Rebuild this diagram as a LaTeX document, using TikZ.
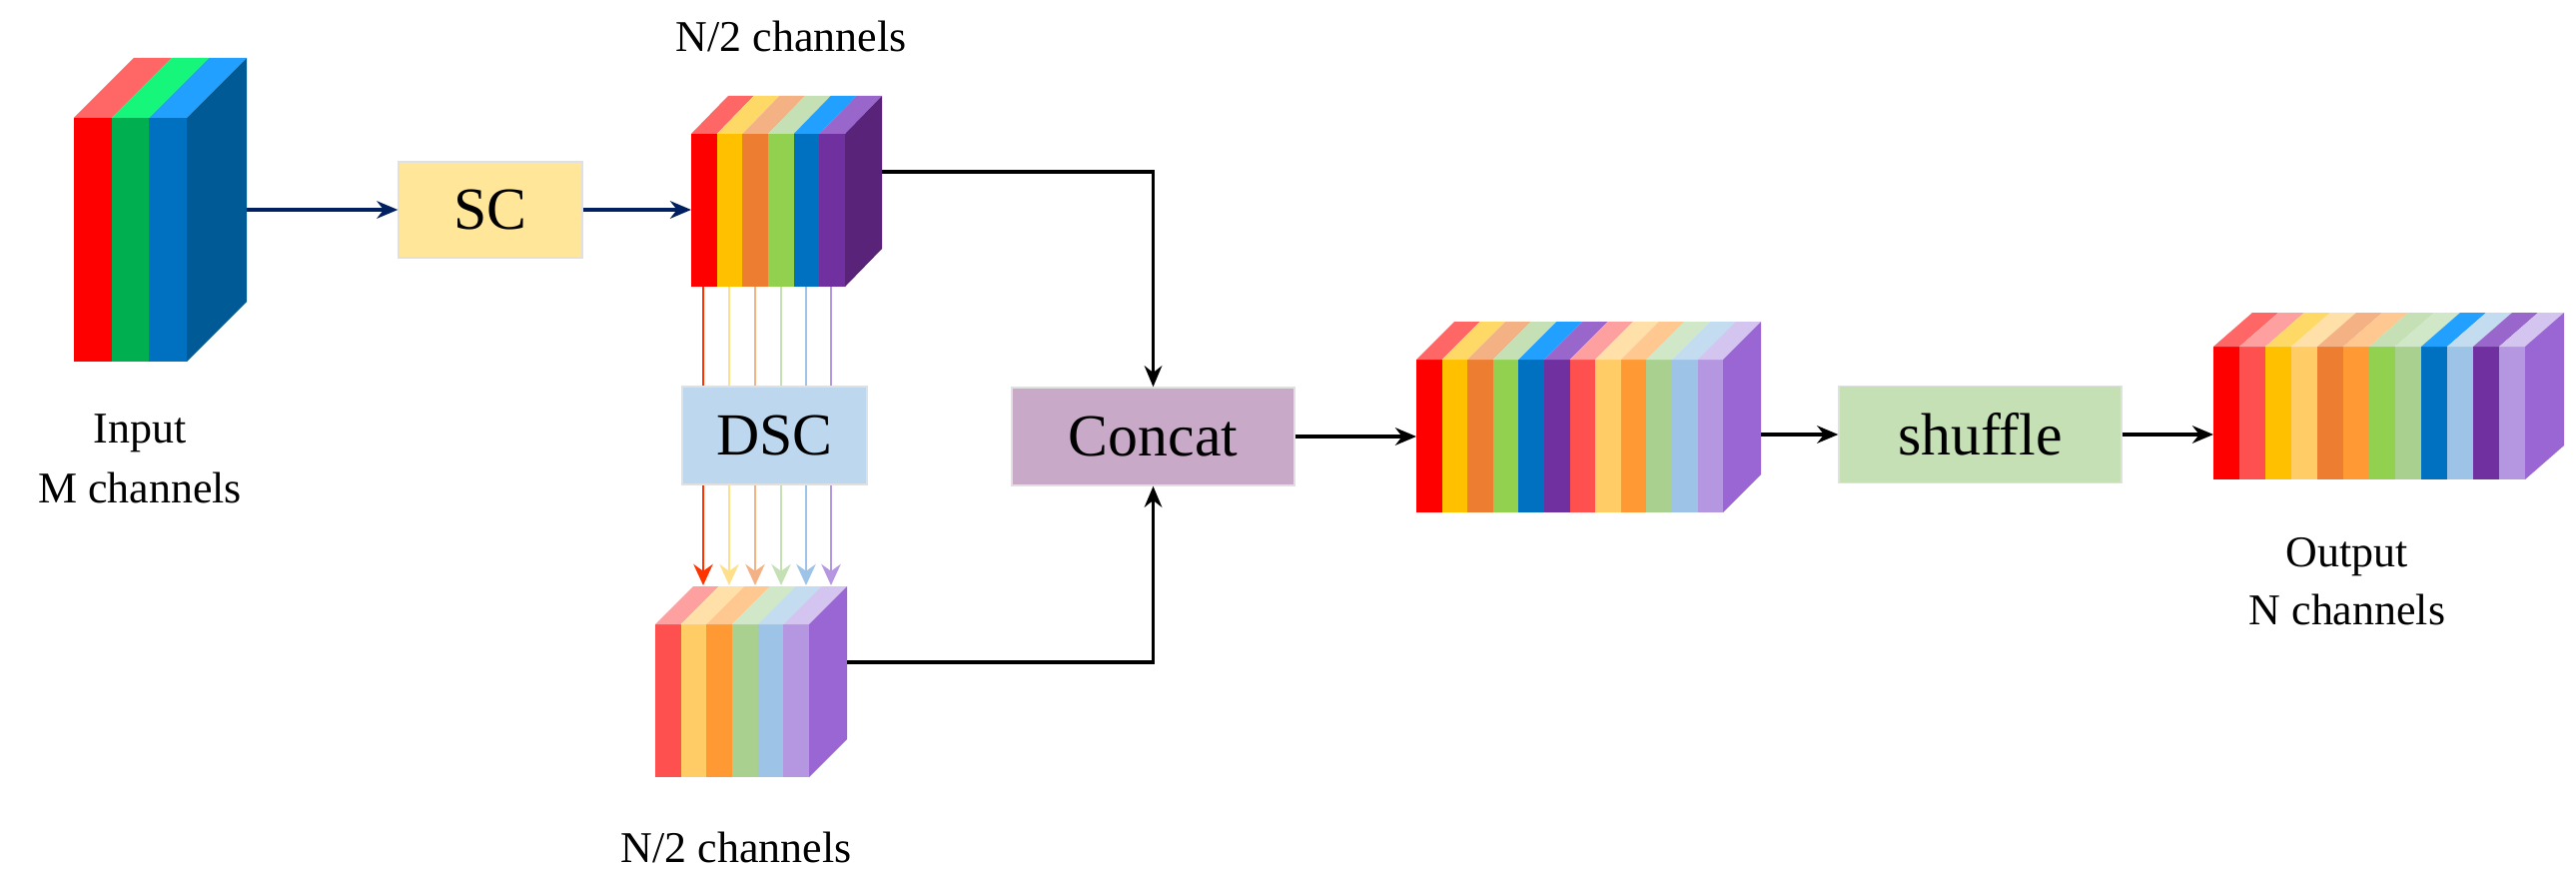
\documentclass[tikz,border=0pt]{standalone}
\usepackage{fontspec}
\setmainfont{Liberation Serif}
\usetikzlibrary{arrows.meta}
\definecolor{aR}{HTML}{FF0000}\definecolor{aRt}{HTML}{FF6666}
\definecolor{aG}{HTML}{00B050}\definecolor{aGt}{HTML}{16F67A}
\definecolor{aB}{HTML}{0070C0}\definecolor{aBt}{HTML}{22A0FF}
\definecolor{aS}{HTML}{005A96}
\definecolor{tY}{HTML}{FFC000}\definecolor{tYt}{HTML}{FFD966}
\definecolor{tO}{HTML}{ED7D31}\definecolor{tOt}{HTML}{F4B183}
\definecolor{tG}{HTML}{92D050}\definecolor{tGt}{HTML}{C5E0B4}
\definecolor{tP}{HTML}{7030A0}\definecolor{tPt}{HTML}{9966CC}
\definecolor{tS}{HTML}{582378}
\definecolor{bR}{HTML}{FF5050}\definecolor{bRt}{HTML}{FFA0A0}
\definecolor{bY}{HTML}{FFCC66}\definecolor{bYt}{HTML}{FFE0A8}
\definecolor{bO}{HTML}{FF9933}\definecolor{bOt}{HTML}{FFC890}
\definecolor{bG}{HTML}{A9D08E}\definecolor{bGt}{HTML}{D0E8C8}
\definecolor{bB}{HTML}{9DC3E6}\definecolor{bBt}{HTML}{C4DCF0}
\definecolor{bP}{HTML}{B497E0}\definecolor{bPt}{HTML}{D4C4F0}
\definecolor{bS}{HTML}{9966D4}
\definecolor{lR}{HTML}{FF3300}\definecolor{lY}{HTML}{FFE08A}
\definecolor{navy}{HTML}{002060}
\definecolor{scF}{HTML}{FFE699}\definecolor{dscF}{HTML}{BDD7EE}
\definecolor{catF}{HTML}{C9A9C8}\definecolor{shF}{HTML}{C5E0B4}
\newcommand\chblock[9]{%
 \foreach \f/\t [count=\i from 0] in {#8} {
  \fill[\f] (#1+\i*#3,#2) rectangle ++(#3,#4);
  \fill[\t] (#1+\i*#3,#2) -- ++(#5,-#6) -- ++(#3,0) -- ++(-#5,#6) -- cycle;
 }
 \fill[#9] (#1+#7*#3,#2) -- ++(#5,-#6) -- ++(0,#4) -- ++(-#5,#6) -- cycle;
}
\begin{document}
\begin{tikzpicture}[x=0.01cm,y=-0.01cm,
  box/.style={draw=black!12,line width=0.4pt,inner sep=0pt,font=\fontsize{17}{20}\selectfont},
  lbl/.style={font=\fontsize{12.5}{17}\selectfont,align=center,inner sep=0pt},
  arr/.style={line width=0.9pt,-{Stealth[length=6pt,width=5pt]}}]
\useasboundingbox (0,0) rectangle (2579,882);
% blocks
\chblock{74}{118}{37.67}{244}{60}{60}{3}{aR/aRt,aG/aGt,aB/aBt}{aS}
\chblock{692}{134}{25.67}{153}{37}{38}{6}{aR/aRt,tY/tYt,tO/tOt,tG/tGt,aB/aBt,tP/tPt}{tS}
\chblock{1418}{360}{25.6}{153}{38}{38}{12}{aR/aRt,tY/tYt,tO/tOt,tG/tGt,aB/aBt,tP/tPt,bR/bRt,bY/bYt,bO/bOt,bG/bGt,bB/bBt,bP/bPt}{bS}
\chblock{2216}{347}{26}{133}{39}{34}{12}{aR/aRt,bR/bRt,tY/tYt,bY/bYt,tO/tOt,bO/bOt,tG/tGt,bG/bGt,aB/aBt,bB/bBt,tP/tPt,bP/bPt}{bS}
% channel lines (behind DSC)
\foreach \x/\c in {704/lR,730/lY,756/tOt,782/tGt,807/bB,832/bP}{
  \draw[\c,line width=0.8pt,-{Stealth[length=6pt,width=5.5pt]}] (\x,287) -- (\x,586);
}
\chblock{656}{625}{25.67}{153}{38}{38}{6}{bR/bRt,bY/bYt,bO/bOt,bG/bGt,bB/bBt,bP/bPt}{bS}
% ports
\coordinate (inR) at (247,210);
\coordinate (topL) at (692,210);
\coordinate (topR) at (883,172);
\coordinate (botR) at (848,663);
\coordinate (bigL) at (1418,437);
\coordinate (bigR) at (1763,435);
\coordinate (outL) at (2216,435);
% boxes
\node[box,fill=scF,minimum width=184*0.01cm,minimum height=96*0.01cm] (sc) at (491,210) {SC};
\node[box,fill=dscF,minimum width=185*0.01cm,minimum height=98*0.01cm] (dsc) at (775.5,436) {DSC};
\node[box,fill=catF,minimum width=283*0.01cm,minimum height=98*0.01cm] (cat) at (1154.5,437) {Concat};
\node[box,fill=shF,minimum width=283*0.01cm,minimum height=97*0.01cm] (sh) at (1982.5,435) {shuffle};
% labels
\node[lbl,anchor=base] (lin) at (140,443) {Input};
\node[lbl,anchor=base] (lin2) at (140,503) {M channels};
\node[lbl,anchor=base] (ltop) at (792,52) {N/2 channels};
\node[lbl,anchor=base] (lbot) at (737,863) {N/2 channels};
\node[lbl,anchor=base] (lout) at (2350,567) {Output};
\node[lbl,anchor=base] (lout2) at (2350,625) {N channels};
% connectors
\draw[arr,navy] (inR) -- (sc.west);
\draw[arr,navy] (sc.east) -- (topL);
\draw[arr] (topR) -| (cat.north);
\draw[arr] (botR) -| (cat.south);
\draw[arr] (cat.east) -- (bigL);
\draw[arr] (bigR) -- (sh.west);
\draw[arr] (sh.east) -- (outL);
\end{tikzpicture}
\end{document}
